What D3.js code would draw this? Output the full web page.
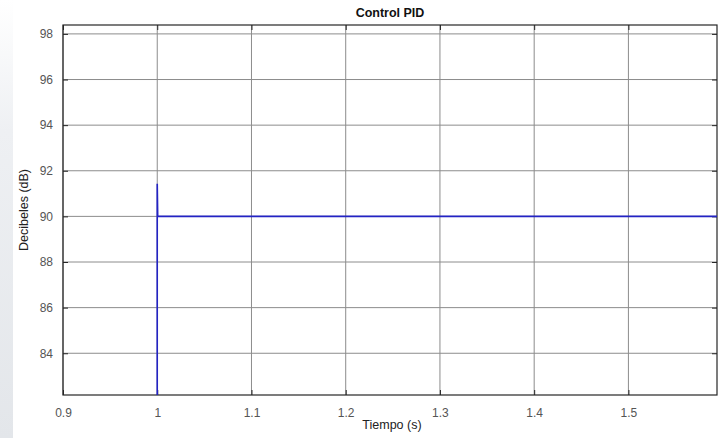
<!DOCTYPE html>
<html>
<head>
<meta charset="utf-8">
<script src="https://cdn.jsdelivr.net/npm/d3@7"></script>
<style>
  body { margin: 0; background: #fff; }
  svg { display: block; font-family: "Liberation Sans", Arial, sans-serif; }
</style>
</head>
<body>
<script>
// step response data (time in s, level in dB)
const tiempo = [0.9, 1.0, 1.0, 1.0005, 1.6];
const decibeles = [0, 0, 91.43, 90, 90];
const xTicks = [0.9, 1.0, 1.1, 1.2, 1.3, 1.4, 1.5];
const yTicks = [84, 86, 88, 90, 92, 94, 96, 98];

const W = 728, H = 438;
const margin = { top: 25, right: 11, bottom: 43, left: 63 };
const width = W - margin.left - margin.right;
const height = H - margin.top - margin.bottom;

const svg = d3.select('body').append('svg')
  .attr('width', W)
  .attr('height', H);

// faint grey strip on the far left
const grad = svg.append('defs').append('linearGradient')
  .attr('id', 'strip').attr('x1', 0).attr('y1', 0).attr('x2', 0).attr('y2', 1);
grad.append('stop').attr('offset', '0%').attr('stop-color', '#ffffff');
grad.append('stop').attr('offset', '30%').attr('stop-color', '#eef0f3');
grad.append('stop').attr('offset', '100%').attr('stop-color', '#e3e6ea');
svg.append('rect')
  .attr('x', 0).attr('y', 0).attr('width', 13).attr('height', H)
  .attr('fill', 'url(#strip)');

svg.select('defs').append('clipPath').attr('id', 'clip')
  .append('rect').attr('width', width).attr('height', height);

const g = svg.append('g')
  .attr('transform', `translate(${margin.left},${margin.top})`);

const x = d3.scaleLinear().domain([0.9, 1.594]).range([0, width]);
const y = d3.scaleLinear().domain([82.17, 98.39]).range([height, 0]);

// grid
g.append('g').selectAll('line').data(xTicks).enter().append('line')
  .attr('x1', d => x(d)).attr('x2', d => x(d))
  .attr('y1', 0).attr('y2', height)
  .attr('stroke', '#8c8c8c').attr('stroke-width', 1);
g.append('g').selectAll('line').data(yTicks).enter().append('line')
  .attr('x1', 0).attr('x2', width)
  .attr('y1', d => y(d)).attr('y2', d => y(d))
  .attr('stroke', '#8c8c8c').attr('stroke-width', 1);

// axes, MATLAB style ticks inward
const tickFmt = d => d === 1 ? '1' : d3.format('.1f')(d);
g.append('g')
  .attr('transform', `translate(0,${height})`)
  .call(d3.axisBottom(x).tickValues(xTicks).tickSize(-5).tickPadding(13).tickFormat(tickFmt))
  .call(a => a.select('.domain').remove());
g.append('g')
  .call(d3.axisTop(x).tickValues(xTicks).tickSize(-5).tickFormat(''))
  .call(a => a.select('.domain').remove());
g.append('g')
  .call(d3.axisLeft(y).tickValues(yTicks).tickSize(-5).tickPadding(10))
  .call(a => a.select('.domain').remove());
g.append('g')
  .attr('transform', `translate(${width},0)`)
  .call(d3.axisRight(y).tickValues(yTicks).tickSize(-5).tickFormat(''))
  .call(a => a.select('.domain').remove());

g.selectAll('.tick line').attr('stroke', '#262626');
g.selectAll('.tick text')
  .attr('fill', '#555')
  .style('font-size', '12px');

// box
g.append('rect')
  .attr('width', width).attr('height', height)
  .attr('fill', 'none')
  .attr('stroke', '#262626').attr('stroke-width', 1.2);

// signal
const pts = tiempo.map((t, i) => [t, decibeles[i]]);
g.append('path')
  .datum(pts)
  .attr('clip-path', 'url(#clip)')
  .attr('fill', 'none')
  .attr('stroke', '#2323c4')
  .attr('stroke-width', 1.6)
  .attr('d', d3.line().x(d => x(d[0])).y(d => y(d[1])));

// labels
svg.append('text')
  .attr('x', margin.left + width / 2).attr('y', 17)
  .attr('text-anchor', 'middle')
  .style('font-size', '12.5px').style('font-weight', 'bold')
  .attr('fill', '#111')
  .text('Control PID');

svg.append('text')
  .attr('x', margin.left + width / 2 + 2).attr('y', 429)
  .attr('text-anchor', 'middle')
  .style('font-size', '12.5px')
  .attr('fill', '#222')
  .text('Tiempo (s)');

svg.append('text')
  .attr('transform', 'translate(28,210) rotate(-90)')
  .attr('text-anchor', 'middle')
  .style('font-size', '12.5px')
  .attr('fill', '#222')
  .text('Decibeles (dB)');
</script>
</body>
</html>
